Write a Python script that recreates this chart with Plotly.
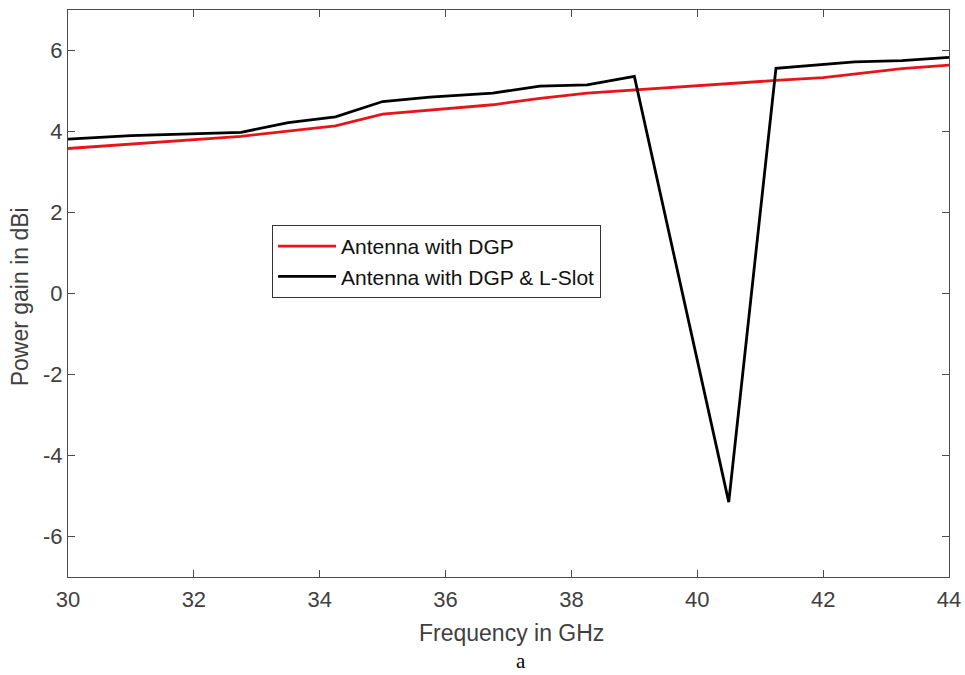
import plotly.graph_objects as go

freq_dgp = [30, 32.75, 34.25, 35, 36.75, 37.5, 38.25, 39, 40.5, 41.25, 42, 42.5, 43.25, 44]
gain_dgp = [3.58, 3.88, 4.14, 4.43, 4.66, 4.82, 4.95, 5.03, 5.19, 5.26, 5.33, 5.42, 5.55, 5.64]

freq_lslot = [30, 31, 32.75, 33.5, 34.25, 35, 35.75, 36.75, 37.5, 38.25, 39, 40.5, 41.25, 42, 42.5, 43.25, 44]
gain_lslot = [3.81, 3.9, 3.98, 4.22, 4.36, 4.74, 4.85, 4.95, 5.12, 5.15, 5.36, -5.15, 5.56, 5.65, 5.72, 5.75, 5.83]

x_ticks = [30, 32, 34, 36, 38, 40, 42, 44]
y_ticks = [-6, -4, -2, 0, 2, 4, 6]

font_fam = "Liberation Sans, Arial, sans-serif"
axis_col = "#4d4d4d"
text_col = "#404040"

fig = go.Figure()
fig.add_trace(go.Scatter(x=freq_dgp, y=gain_dgp, mode="lines", name="Antenna with DGP",
                         line=dict(color="#e8141b", width=2.8)))
fig.add_trace(go.Scatter(x=freq_lslot, y=gain_lslot, mode="lines", name="Antenna with DGP & L-Slot",
                         line=dict(color="#000000", width=2.8)))

fig.update_layout(
    width=965, height=675,
    margin=dict(l=68, r=16, t=10, b=98, autoexpand=False),
    paper_bgcolor="white", plot_bgcolor="white",
    font=dict(family=font_fam, color=text_col, size=21),
    showlegend=True,
    legend=dict(x=0.2316, y=0.6208, xanchor="left", yanchor="top",
                bgcolor="white", bordercolor="#333333", borderwidth=1,
                font=dict(size=21, color="#111111", family=font_fam),
                tracegroupgap=0, itemwidth=58),
    xaxis=dict(range=[30, 44], tickvals=x_ticks, ticktext=[str(v) for v in x_ticks],
               showgrid=False, zeroline=False, showline=True, linecolor=axis_col, linewidth=1,
               mirror="ticks", ticks="inside", ticklen=7, tickcolor=axis_col, automargin=False,
               tickfont=dict(size=22, color=text_col), ticklabelstandoff=3),
    yaxis=dict(range=[-7, 7], tickvals=y_ticks, ticktext=[str(v) for v in y_ticks],
               showgrid=False, zeroline=False, showline=True, linecolor=axis_col, linewidth=1,
               mirror="ticks", ticks="inside", ticklen=7, tickcolor=axis_col, automargin=False,
               tickfont=dict(size=22, color=text_col)),
)

fig.add_annotation(text="Frequency in GHz", xref="paper", yref="paper", x=0.503, y=-0.0985,
                   xanchor="center", yanchor="middle", showarrow=False,
                   font=dict(size=23, color=text_col, family=font_fam))
fig.add_annotation(text="Power gain in dBi", xref="paper", yref="paper", x=-0.0545, y=0.495,
                   xanchor="center", yanchor="middle", textangle=-90, showarrow=False,
                   font=dict(size=23, color=text_col, family=font_fam))
fig.add_annotation(text="a", xref="paper", yref="paper", x=0.514, y=-0.1485,
                   xanchor="center", yanchor="middle", showarrow=False,
                   font=dict(family="Liberation Serif, Times New Roman, serif", size=21, color="#000000"))

fig.write_html("out.html")
